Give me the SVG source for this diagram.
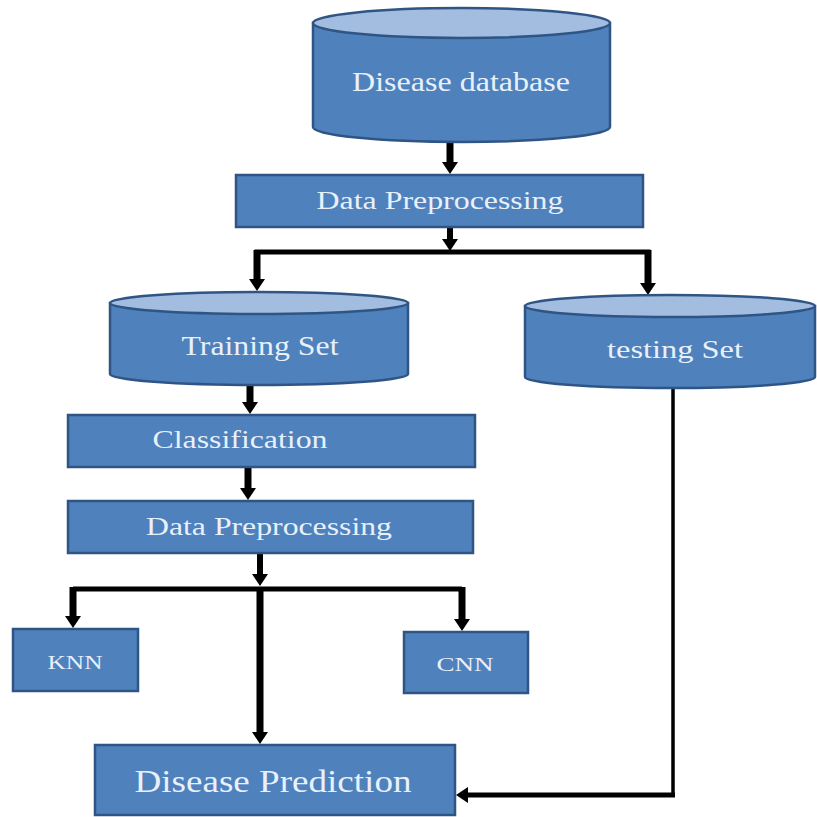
<svg xmlns="http://www.w3.org/2000/svg" width="817" height="817" viewBox="0 0 817 817">
<defs>
<style>
.node{fill:#4f81bd;stroke:#2f5585;stroke-width:2.5}
.top{fill:#a3bde0;stroke:#2f5585;stroke-width:2.5}
.lbl{font-family:"Liberation Serif","Times New Roman",serif;fill:#e8f0fa;text-anchor:middle}
.c{stroke:#000;fill:none}
</style>
<marker id="ah" viewBox="0 0 12 16" refX="1" refY="8" markerWidth="12" markerHeight="16" markerUnits="userSpaceOnUse" orient="auto">
<path d="M0,0 L12,8 L0,16 z" fill="#000"/>
</marker>
</defs>
<rect width="817" height="817" fill="#fff"/>
<g id="connectors">
<line class="c" x1="450" y1="142" x2="450" y2="163" stroke-width="7" marker-end="url(#ah)"/>
<line class="c" x1="450" y1="227" x2="450" y2="240" stroke-width="6" marker-end="url(#ah)"/>
<polyline class="c" points="257,254 257,252 648,252 648,254" stroke-width="5"/>
<line class="c" x1="257" y1="250" x2="257" y2="280" stroke-width="7" marker-end="url(#ah)"/>
<line class="c" x1="648" y1="250" x2="648" y2="284" stroke-width="7" marker-end="url(#ah)"/>
<line class="c" x1="250" y1="385" x2="250" y2="403" stroke-width="7" marker-end="url(#ah)"/>
<line class="c" x1="248" y1="467" x2="248" y2="489" stroke-width="7" marker-end="url(#ah)"/>
<line class="c" x1="260" y1="553" x2="260" y2="575" stroke-width="6" marker-end="url(#ah)"/>
<line class="c" x1="73" y1="589" x2="462" y2="589" stroke-width="5"/>
<line class="c" x1="73" y1="587" x2="73" y2="617" stroke-width="7" marker-end="url(#ah)"/>
<line class="c" x1="462" y1="587" x2="462" y2="620" stroke-width="7" marker-end="url(#ah)"/>
<line class="c" x1="260" y1="587" x2="260" y2="733" stroke-width="7" marker-end="url(#ah)"/>
<line class="c" x1="673" y1="388" x2="673" y2="797" stroke-width="3.5"/>
<line class="c" x1="675" y1="795" x2="467" y2="795" stroke-width="5" marker-end="url(#ah)"/>
</g>
<g id="disease-database">
<path class="node" d="M313,23 L313,127 A148.5,15 0 0 0 610,127 L610,23 Z"/>
<ellipse class="top" cx="461.5" cy="23" rx="148.5" ry="15"/>
<text class="lbl" x="461" y="91" font-size="27" textLength="218" lengthAdjust="spacingAndGlyphs">Disease database</text>
</g>
<g id="data-preprocessing-1">
<rect class="node" x="236" y="175" width="407" height="52"/>
<text class="lbl" x="440" y="209" font-size="26" textLength="247" lengthAdjust="spacingAndGlyphs">Data Preprocessing</text>
</g>
<g id="training-set">
<path class="node" d="M110,303 L110,374 A149,11 0 0 0 408,374 L408,303 Z"/>
<ellipse class="top" cx="259" cy="303" rx="149" ry="11"/>
<text class="lbl" x="260" y="355" font-size="27" textLength="157" lengthAdjust="spacingAndGlyphs">Training Set</text>
</g>
<g id="testing-set">
<path class="node" d="M525,306 L525,377 A145,11 0 0 0 815,377 L815,306 Z"/>
<ellipse class="top" cx="670" cy="306" rx="145" ry="11"/>
<text class="lbl" x="675" y="358" font-size="26" textLength="136" lengthAdjust="spacingAndGlyphs">testing Set</text>
</g>
<g id="classification">
<rect class="node" x="68" y="415" width="407" height="52"/>
<text class="lbl" x="240" y="448" font-size="25" textLength="175" lengthAdjust="spacingAndGlyphs">Classification</text>
</g>
<g id="data-preprocessing-2">
<rect class="node" x="68" y="501" width="405" height="52"/>
<text class="lbl" x="269" y="535" font-size="26" textLength="246" lengthAdjust="spacingAndGlyphs">Data Preprocessing</text>
</g>
<g id="knn">
<rect class="node" x="13" y="629" width="125" height="62"/>
<text class="lbl" x="75" y="669" font-size="18" textLength="55" lengthAdjust="spacingAndGlyphs">KNN</text>
</g>
<g id="cnn">
<rect class="node" x="404" y="632" width="124" height="61"/>
<text class="lbl" x="465" y="671" font-size="18" textLength="57" lengthAdjust="spacingAndGlyphs">CNN</text>
</g>
<g id="disease-prediction">
<rect class="node" x="95" y="745" width="360" height="70"/>
<text class="lbl" x="273" y="792" font-size="32" textLength="277" lengthAdjust="spacingAndGlyphs">Disease Prediction</text>
</g>
</svg>
